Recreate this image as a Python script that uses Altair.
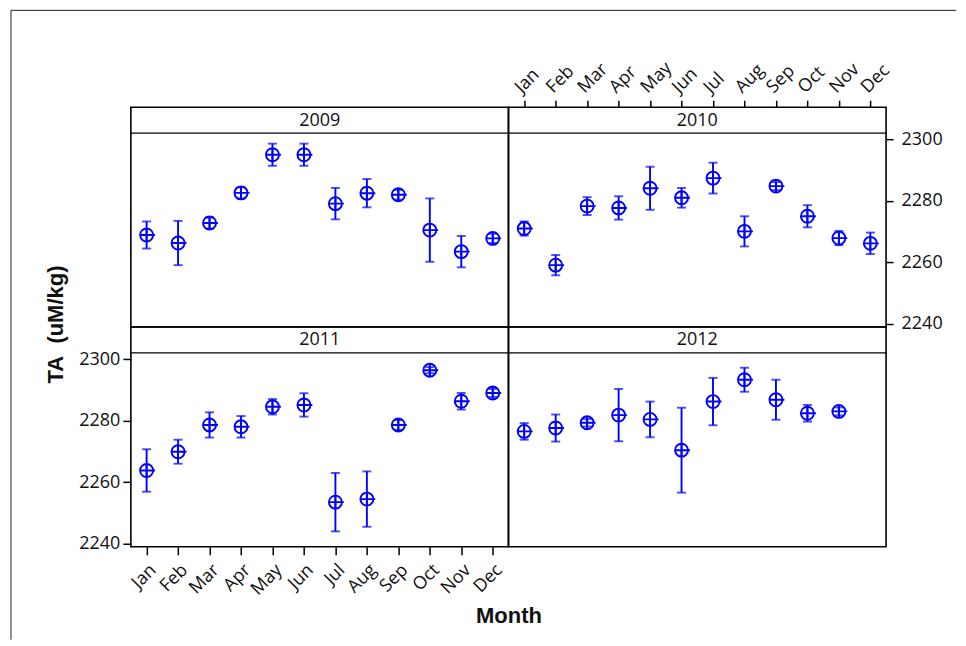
import altair as alt
import pandas as pd

months = ["Jan", "Feb", "Mar", "Apr", "May", "Jun", "Jul", "Aug", "Sep", "Oct", "Nov", "Dec"]
years = ["2009", "2010", "2011", "2012"]

mean_2009 = [2268.9, 2266.3, 2272.8, 2282.6, 2295.0, 2295.0, 2279.1, 2282.5, 2282.0, 2270.5, 2263.5, 2267.8]
err_2009 = [4.4, 7.2, 1.8, 1.8, 3.6, 3.6, 5.1, 4.6, 1.6, 10.3, 5.1, 1.5]
mean_2010 = [2271.0, 2259.1, 2278.3, 2277.7, 2284.1, 2281.0, 2287.4, 2270.1, 2284.8, 2275.0, 2267.9, 2266.2]
err_2010 = [2.3, 3.3, 2.9, 3.8, 7.0, 3.2, 5.0, 4.9, 1.3, 3.6, 2.3, 3.5]
mean_2011 = [2263.8, 2269.9, 2278.6, 2278.0, 2284.5, 2285.1, 2253.5, 2254.5, 2278.6, 2296.4, 2286.3, 2289.0]
err_2011 = [6.9, 3.9, 4.1, 3.5, 2.5, 3.8, 9.5, 9.0, 1.6, 1.0, 2.7, 1.3]
mean_2012 = [2276.5, 2277.6, 2279.3, 2281.8, 2280.4, 2270.4, 2286.2, 2293.3, 2286.8, 2282.4, 2283.0, None]
err_2012 = [2.7, 4.4, 1.2, 8.5, 5.8, 13.8, 7.7, 3.9, 6.5, 2.7, 1.3, None]

y_ticks = [2240, 2260, 2280, 2300]

series = {
    "2009": (mean_2009, err_2009),
    "2010": (mean_2010, err_2010),
    "2011": (mean_2011, err_2011),
    "2012": (mean_2012, err_2012),
}

BLUE = "#0000ff"
FONT = "Open Sans"
TITLE_FONT = "Liberation Sans"
W, H, STRIP = 378, 220, 26
SW = 1.9
LBL = 18

SYMBOL = "M-1,0A1,1,0,1,1,1,0A1,1,0,1,1,-1,0ZM-1,0H1.3M0,-1V1"

axis_common = dict(
    grid=False, domain=False, tickColor="black", tickWidth=1.5,
    labelFont=FONT, labelFontSize=LBL, labelColor="#111",
)

x_top = alt.Axis(orient="top", labelAngle=-45, tickSize=7, labelPadding=4, **axis_common)
x_bottom = alt.Axis(
    orient="bottom", labelAngle=-45, tickSize=8, labelPadding=6,
    title="Month", titleFont=TITLE_FONT, titleFontSize=22, titleFontWeight="bold",
    titleColor="#111", titleX=W, titleY=76, titleBaseline="alphabetic", titleAlign="center",
    **axis_common,
)
y_left = alt.Axis(
    orient="left", values=y_ticks, format="d", tickSize=8, labelPadding=3,
    title="TA\u00a0\u00a0(uM/kg)", titleFont=TITLE_FONT, titleFontSize=22, titleFontWeight="bold",
    titleColor="#111", titleX=-68, titleY=-3, titleAngle=-90, titleBaseline="alphabetic",
    titleAlign="center",
    **axis_common,
)
y_right = alt.Axis(orient="right", values=y_ticks, format="d", tickSize=7, labelPadding=8,
                   **axis_common)


def panel(year, xa, ya, frame=False):
    means, errs = series[year]
    rows = []
    for m, v, e in zip(months, means, errs):
        if v is None:
            continue
        rows.append({"month": m, "ta": v, "lo": v - e, "hi": v + e})
    df = pd.DataFrame(rows)
    xs = alt.Scale(type="point", domain=months, padding=0.5)
    ys = alt.Scale(domain=[2239.0, 2302.0], range=[H, STRIP], nice=False, zero=False)

    xenc = alt.X("month:N", scale=xs, axis=xa, title="Month" if xa is x_bottom else None)
    yl = alt.Y("lo:Q", scale=ys, axis=ya,
               title="TA\u00a0\u00a0(uM/kg)" if ya is y_left else None)

    base = alt.Chart(df)
    bars = base.mark_rule(color=BLUE, strokeWidth=SW).encode(x=xenc, y=yl, y2="hi:Q")
    cap_lo = base.mark_tick(color=BLUE, size=9, thickness=SW).encode(x=xenc, y=yl)
    cap_hi = base.mark_tick(color=BLUE, size=9, thickness=SW).encode(
        x=xenc, y=alt.Y("hi:Q", scale=ys)
    )
    pts = base.mark_point(
        shape=SYMBOL, size=169, filled=False, color=BLUE, strokeWidth=SW, opacity=1
    ).encode(x=xenc, y=alt.Y("ta:Q", scale=ys))

    strip_data = alt.Data(values=[{"year": year}])
    strip_line = alt.Chart(strip_data).mark_rule(color="black", strokeWidth=1.2).encode(
        x=alt.value(0), x2=alt.value(W), y=alt.value(STRIP)
    )
    strip_text = alt.Chart(strip_data).mark_text(
        font=FONT, fontSize=LBL, color="#111", baseline="middle", align="center"
    ).encode(text="year:N", x=alt.value(W / 2), y=alt.value(STRIP / 2 + 0.5))

    layers = [bars, cap_lo, cap_hi, pts, strip_line, strip_text]
    if frame:
        fd = alt.Data(values=[{"f": 1}])
        f1 = alt.Chart(fd).mark_rule(color="#222", strokeWidth=1).encode(
            x=alt.value(-120), y=alt.value(-97), y2=alt.value(533)
        )
        f2 = alt.Chart(fd).mark_rule(color="#222", strokeWidth=1).encode(
            x=alt.value(-120), x2=alt.value(826), y=alt.value(-97)
        )
        layers = layers + [f1, f2]
    return alt.layer(*layers).properties(width=W, height=H)


tl = panel("2009", None, None, frame=True)
tr = panel("2010", x_top, y_right)
bl = panel("2011", x_bottom, y_left)
br = panel("2012", None, None)

chart = (
    alt.concat(tl, tr, bl, br, columns=2, spacing=0, bounds="flush")
    .resolve_scale(x="independent", y="independent")
    .properties(padding={"left": 1, "top": 0, "right": 0, "bottom": 0})
    .configure_view(stroke="black", strokeWidth=1.6)
    .configure_axis(grid=False)
)

chart.save("out.html", embed_options={"renderer": "svg", "actions": False})
